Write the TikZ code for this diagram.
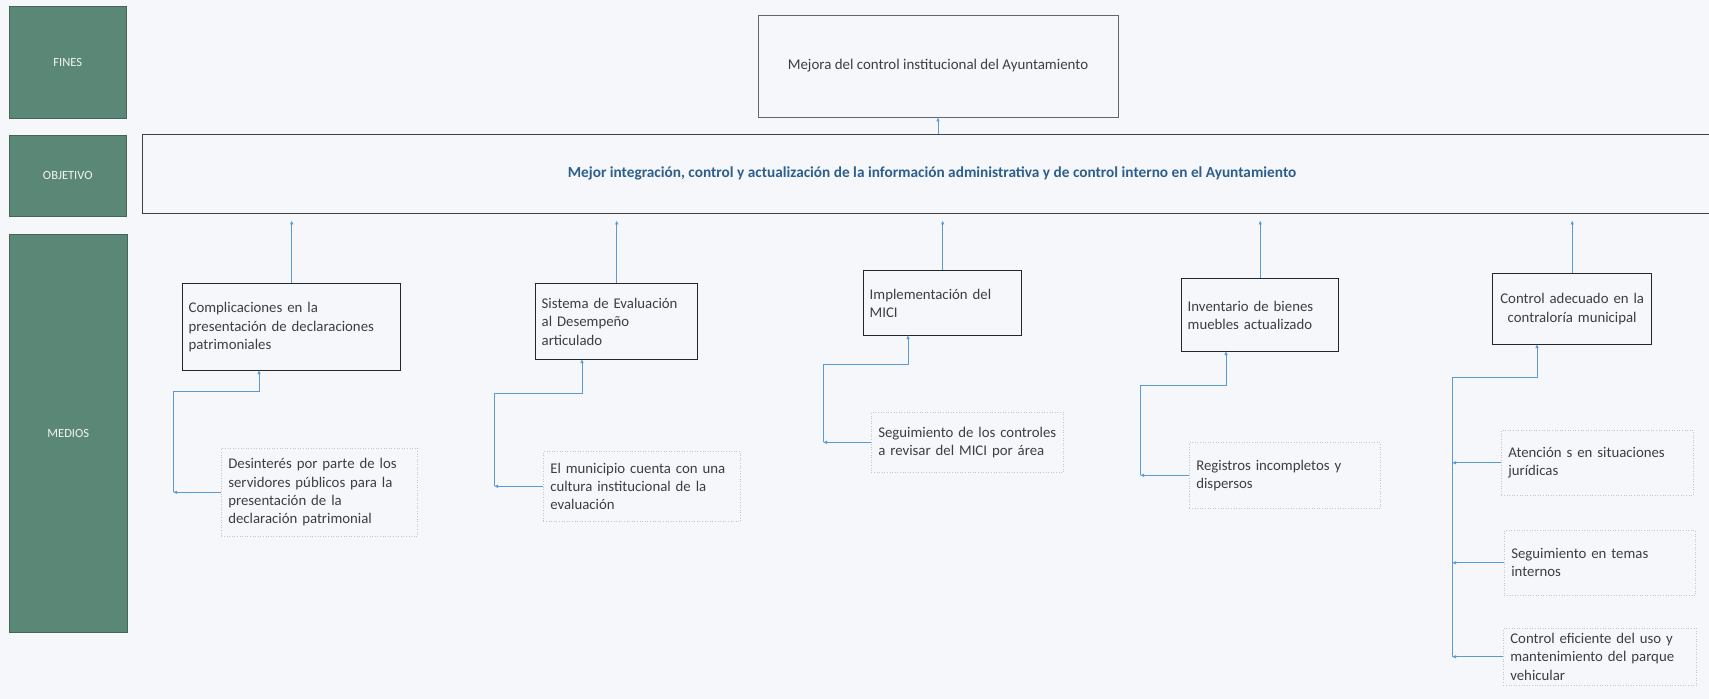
\documentclass[tikz,border=0pt]{standalone}
\usepackage{fontspec}
\setmainfont{Carlito}
\usetikzlibrary{arrows.meta}
\definecolor{bg}{RGB}{245,247,250}
\definecolor{lab}{RGB}{90,135,118}
\definecolor{arr}{RGB}{91,155,213}
\definecolor{objtext}{RGB}{46,95,140}
\definecolor{txt}{RGB}{62,62,62}
\begin{document}
\begin{tikzpicture}[x=1pt,y=-1pt,
  labelbox/.style={fill=lab, draw=lab!75!black, line width=0.6pt, anchor=north west, text=white!92!lab, font=\fontsize{12.5}{14}\selectfont, inner sep=0pt},
  midbox/.style={draw=black!85, line width=1.4pt, anchor=north west, align=left, font=\fontsize{14.8}{18.3}\selectfont, text=txt, inner xsep=6pt, inner ysep=0pt},
  subbox/.style={draw=gray!45, dotted, line width=0.6pt, anchor=north west, align=left, font=\fontsize{14.8}{18.3}\selectfont, text=txt, inner xsep=7pt, inner ysep=0pt},
  conn/.style={draw=arr, line width=0.8pt, -{Latex[length=4pt,width=3.5pt]}},
]
\useasboundingbox (0,0) rectangle (1709,699);
\fill[bg] (0,0) rectangle (1709,699);

% row labels
\node[labelbox, minimum width=117pt, minimum height=112pt] (lf) at (9,6) {FINES};
\node[labelbox, minimum width=117pt, minimum height=81pt] (lo) at (9,135) {OBJETIVO};
\node[labelbox, minimum width=118pt, minimum height=398pt] (lm) at (9,234) {MEDIOS};

% fines and objective
\node[draw=gray!80!black, line width=0.7pt, minimum width=360pt, minimum height=102pt, font=\fontsize{14.9}{18.3}\selectfont, text=txt] (fines) at (938,66) {Mejora del control institucional del Ayuntamiento};
\node[draw=black!75, line width=0.8pt, minimum width=1580pt, minimum height=79pt, font=\fontsize{15.3}{18}\selectfont\bfseries, text=objtext] (obj) at (932,173.5) {Mejor integración, control y actualización de la información administrativa y de control interno en el Ayuntamiento};

% middle boxes
\node[midbox, text width=206pt, minimum height=87pt] (c1) at (182,283) {Complicaciones en la\\presentación de declaraciones\\patrimoniales};
\node[midbox, text width=150pt, minimum height=76pt] (c2) at (535,283) {Sistema de Evaluación\\al Desempeño\\articulado};
\node[midbox, text width=146pt, minimum height=65pt] (c3) at (863,270) {Implementación del\\MICI};
\node[midbox, text width=145pt, minimum height=73pt] (c4) at (1181,278) {Inventario de bienes\\muebles actualizado};
\node[midbox, text width=147pt, minimum height=71pt, align=center] (c5) at (1492,273) {Control adecuado en la\\contraloría municipal};

% sub boxes
\node[subbox, text width=182pt, minimum height=88pt] (d1) at (221,448) {Desinterés por parte de los\\servidores públicos para la\\presentación de la\\declaración patrimonial};
\node[subbox, text width=183pt, minimum height=70pt] (d2) at (543,451) {El municipio cuenta con una\\cultura institucional de la\\evaluación};
\node[subbox, text width=178pt, minimum height=60pt] (d3) at (871,412) {Seguimiento de los controles\\a revisar del MICI por área};
\node[subbox, text width=177pt, minimum height=66pt] (d4) at (1189,442) {Registros incompletos y\\dispersos};
\node[subbox, text width=178pt, minimum height=65pt] (e1) at (1501,430) {Atención s en situaciones\\jurídicas};
\node[subbox, text width=177pt, minimum height=65pt] (e2) at (1504,530) {Seguimiento en temas\\internos};
\node[subbox, text width=179pt, minimum height=57pt] (e3) at (1503,628) {Control eficiente del uso y\\mantenimiento del parque\\vehicular};

% objective -> fines
\draw[conn] (obj.north -| fines.south) -- (fines.south);

% middle -> objective
\foreach \n in {c1,c2,c3,c4,c5}
  \draw[conn, shorten >=7pt] (\n.north) -- (\n.north |- obj.south);

% elbow coordinates
\coordinate (L1) at (173,391); \coordinate (P1) at (259,370);
\coordinate (L2) at (494,393); \coordinate (P2) at (582,359);
\coordinate (L3) at (823,364); \coordinate (P3) at (908,335);
\coordinate (L4) at (1140,385); \coordinate (P4) at (1226,351);
\coordinate (L5) at (1452,377); \coordinate (P5) at (1537,344);

% sub -> middle
\draw[conn] (d1.west) -- (d1.west -| L1);
\draw[conn] (d1.west -| L1) -- (L1) -| (P1);
\draw[conn] (d2.west) -- (d2.west -| L2);
\draw[conn] (d2.west -| L2) -- (L2) -| (P2);
\draw[conn] (d3.west) -- (d3.west -| L3);
\draw[conn] (d3.west -| L3) -- (L3) -| (P3);
\draw[conn] (d4.west) -- (d4.west -| L4);
\draw[conn] (d4.west -| L4) -- (L4) -| (P4);
\draw[conn] (e1.west) -- (e1.west -| L5);
\draw[conn] (e2.west) -- (e2.west -| L5);
\draw[conn] (e3.west) -- (e3.west -| L5);
\draw[conn] (e3.west -| L5) -- (L5) -| (P5);
\end{tikzpicture}
\end{document}
